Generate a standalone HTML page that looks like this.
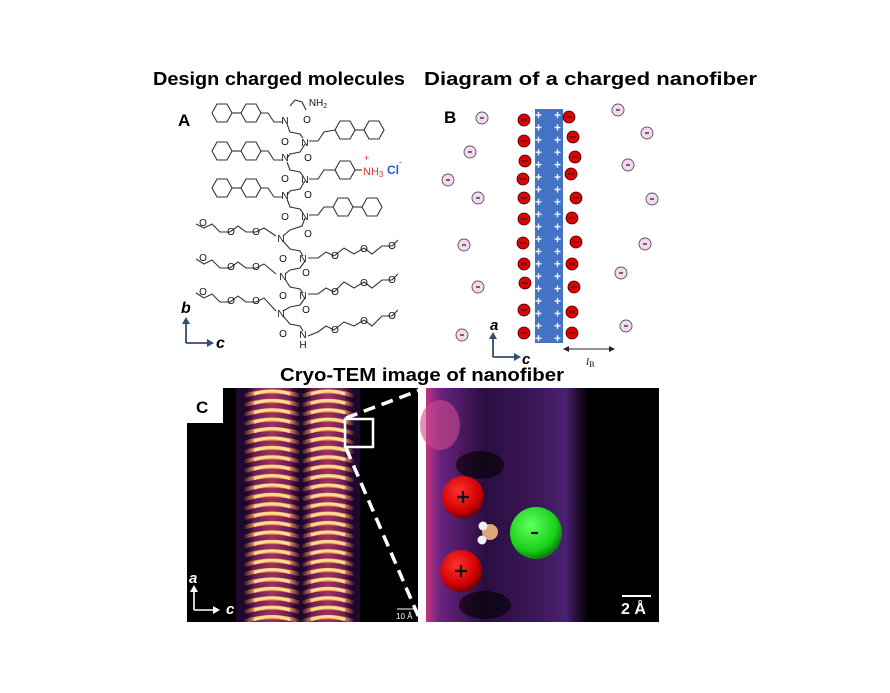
<!DOCTYPE html>
<html><head><meta charset="utf-8"><style>
html,body{margin:0;padding:0;background:#fff;}
svg{display:block;font-family:"Liberation Sans",sans-serif;}
</style></head><body>
<svg width="890" height="693" viewBox="0 0 890 693" xmlns="http://www.w3.org/2000/svg">
<defs>
<pattern id="plus" x="535" y="109" width="28" height="12.4" patternUnits="userSpaceOnUse">
<path d="M0.5 6h6M3.5 3v6M19.5 6h6M22.5 3v6" stroke="#fff" stroke-width="1.3"/>
</pattern>
<linearGradient id="stripe" x1="0" x2="1" y1="0" y2="0">
<stop offset="0" stop-color="#1a0628"/><stop offset="0.2" stop-color="#6a1e5a"/><stop offset="0.5" stop-color="#a0305a"/><stop offset="0.8" stop-color="#6a1e5a"/><stop offset="1" stop-color="#1a0628"/>
</linearGradient>
<pattern id="chev1" x="244" y="388" width="56" height="9.4" patternUnits="userSpaceOnUse">
<path d="M0 8 Q28 -1 56 8" stroke="#f0845a" stroke-width="4.2" fill="none"/>
<path d="M10 6 Q28 0 46 6" stroke="#ffe090" stroke-width="3" fill="none"/>
</pattern>
<pattern id="chev2" x="302" y="388" width="52" height="9.4" patternUnits="userSpaceOnUse">
<path d="M0 8 Q26 -1 52 8" stroke="#f0845a" stroke-width="4.2" fill="none"/>
<path d="M9 6 Q26 0 43 6" stroke="#ffe090" stroke-width="3" fill="none"/>
</pattern>
<linearGradient id="fade" x1="0" x2="1" y1="0" y2="0">
<stop offset="0" stop-color="#1a0628" stop-opacity="0.9"/><stop offset="0.18" stop-color="#1a0628" stop-opacity="0"/><stop offset="0.82" stop-color="#1a0628" stop-opacity="0"/><stop offset="1" stop-color="#1a0628" stop-opacity="0.9"/>
</linearGradient>
<linearGradient id="rbg" x1="0" x2="1" y1="0" y2="0">
<stop offset="0" stop-color="#c0357f"/><stop offset="0.06" stop-color="#6a2480"/><stop offset="0.25" stop-color="#2a0e40"/><stop offset="0.45" stop-color="#3a1656"/><stop offset="0.6" stop-color="#4a2070"/><stop offset="0.66" stop-color="#1a0a25"/><stop offset="0.7" stop-color="#000"/><stop offset="1" stop-color="#000"/>
</linearGradient>
<radialGradient id="red" cx="0.4" cy="0.35" r="0.7"><stop offset="0" stop-color="#ff3030"/><stop offset="0.7" stop-color="#d00000"/><stop offset="1" stop-color="#600000"/></radialGradient>
<radialGradient id="grn" cx="0.4" cy="0.35" r="0.7"><stop offset="0" stop-color="#60ff60"/><stop offset="0.7" stop-color="#18d018"/><stop offset="1" stop-color="#0a6a0a"/></radialGradient>
</defs>

<text x="153" y="85" font-size="18" font-weight="bold" textLength="252" lengthAdjust="spacingAndGlyphs">Design charged molecules</text>
<text x="424" y="85" font-size="18" font-weight="bold" textLength="333" lengthAdjust="spacingAndGlyphs">Diagram of a charged nanofiber</text>
<text x="280" y="381" font-size="18" font-weight="bold" textLength="284" lengthAdjust="spacingAndGlyphs">Cryo-TEM image of nanofiber</text>

<text x="178" y="126" font-size="17" font-weight="bold">A</text>
<g stroke="#333" stroke-width="1.1" fill="none">
<polygon points="212,113 217,104 227,104 232,113 227,122 217,122"/>
<polygon points="241,113 246,104 256,104 261,113 256,122 246,122"/>
<line x1="232" y1="113" x2="241" y2="113"/><polyline points="261,113 268,113 274,122 282,122"/>
<polygon points="212,151 217,142 227,142 232,151 227,160 217,160"/>
<polygon points="241,151 246,142 256,142 261,151 256,160 246,160"/>
<line x1="232" y1="151" x2="241" y2="151"/><polyline points="261,151 268,151 274,160 282,160"/>
<polygon points="212,188 217,179 227,179 232,188 227,197 217,197"/>
<polygon points="241,188 246,179 256,179 261,188 256,197 246,197"/>
<line x1="232" y1="188" x2="241" y2="188"/><polyline points="261,188 268,188 274,197 282,197"/>
<polygon points="335,130 340,121 350,121 355,130 350,139 340,139"/>
<polygon points="364,130 369,121 379,121 384,130 379,139 369,139"/>
<line x1="355" y1="130" x2="364" y2="130"/><polyline points="309,141 318,141 324,132 335,130"/>
<polygon points="335,170 340,161 350,161 355,170 350,179 340,179"/>
<line x1="355" y1="170" x2="362" y2="170"/><polyline points="309,179 318,179 324,170 335,170"/>
<polygon points="333,207 338,198 348,198 353,207 348,216 338,216"/>
<polygon points="362,207 367,198 377,198 382,207 377,216 367,216"/>
<line x1="353" y1="207" x2="362" y2="207"/><polyline points="309,215 318,215 324,207 333,207"/>
<polyline points="287,124 290,132 300,134 303,138"/>
<polyline points="290,106 295,100 302,102 306,110"/>
<polyline points="305,144 300,152 290,154 287,158"/>
<polyline points="287,162 290,170 300,172 303,176"/>
<polyline points="305,181 300,189 290,191 287,195"/>
<polyline points="287,199 290,207 300,209 303,213"/>
<polyline points="305,218 302,226 290,230 283,236"/>
<polyline points="283,241 290,249 300,251 303,256"/>
<polyline points="305,261 300,268 290,270 285,274"/>
<polyline points="285,279 290,287 300,289 303,293"/>
<polyline points="305,298 300,305 290,307 283,311"/>
<polyline points="283,316 290,324 300,326 303,331"/>
<polyline points="196,224 204,228 212,224 220,232 230,232 238,226 246,232 256,232 264,228 276,236"/>
<polyline points="196,259 204,264 212,260 220,268 230,268 238,262 246,268 256,268 264,264 276,274"/>
<polyline points="196,293 204,298 212,294 220,302 230,302 238,296 246,302 256,302 264,298 276,311"/>
<polyline points="308,258 318,258 326,252 334,256 344,248 354,254 364,248 372,254 382,246 392,246 398,240"/>
<polyline points="308,294 318,294 326,288 334,292 344,282 354,288 364,282 372,288 382,280 392,280 398,274"/>
<polyline points="308,336 318,332 326,326 334,330 344,322 354,326 364,320 372,326 382,316 392,316 398,310"/>
</g>
<g font-size="10" fill="#111" text-anchor="middle">
<text x="318" y="106">NH<tspan font-size="7" dy="2">2</tspan></text>
<text x="307" y="123">O</text>
<text x="285" y="124">N</text><text x="285" y="145">O</text>
<text x="305" y="146">N</text><text x="308" y="161">O</text>
<text x="285" y="161">N</text><text x="285" y="182">O</text>
<text x="305" y="183">N</text><text x="308" y="198">O</text>
<text x="285" y="199">N</text><text x="285" y="220">O</text>
<text x="305" y="220">N</text><text x="308" y="237">O</text>
<text x="281" y="242">N</text><text x="283" y="262">O</text>
<text x="303" y="262">N</text><text x="306" y="276">O</text>
<text x="283" y="280">N</text><text x="283" y="299">O</text>
<text x="303" y="299">N</text><text x="306" y="313">O</text>
<text x="281" y="317">N</text><text x="283" y="337">O</text>
<text x="303" y="338">N</text><text x="303" y="348">H</text>
<text x="203" y="226">O</text><text x="231" y="235">O</text><text x="256" y="235">O</text>
<text x="203" y="261">O</text><text x="231" y="270">O</text><text x="256" y="270">O</text>
<text x="203" y="295">O</text><text x="231" y="304">O</text><text x="256" y="304">O</text>
<text x="335" y="259">O</text><text x="364" y="252">O</text><text x="392" y="249">O</text>
<text x="335" y="295">O</text><text x="364" y="286">O</text><text x="392" y="283">O</text>
<text x="335" y="333">O</text><text x="364" y="324">O</text><text x="392" y="319">O</text>
</g>
<text x="363" y="175" font-size="11" fill="#e83030">NH<tspan font-size="8" dy="2">3</tspan></text>
<text x="364" y="161" font-size="9" fill="#e83030">+</text>
<text x="387" y="174" font-size="12" fill="#2a5ad0" font-weight="bold">Cl</text>
<text x="399" y="165" font-size="9" fill="#2a5ad0">-</text>
<text x="181" y="313" font-size="16" font-weight="bold" font-style="italic">b</text>
<path d="M186 343V322M186 343h22" stroke="#2e4f70" stroke-width="1.8" fill="none"/>
<path d="M182 324l4-7 4 7zM207 339l7 4-7 4z" fill="#2e4f70"/>
<text x="216" y="348" font-size="16" font-weight="bold" font-style="italic">c</text>

<text x="444" y="123" font-size="17" font-weight="bold">B</text>
<rect x="535" y="109" width="28" height="234" fill="#4472c4"/>
<rect x="535" y="109" width="28" height="234" fill="url(#plus)"/>
<g fill="#e00000" stroke="#300" stroke-width="0.8">
<circle cx="524" cy="120" r="6"/><circle cx="524" cy="141" r="6"/><circle cx="525" cy="161" r="6"/><circle cx="523" cy="179" r="6"/><circle cx="524" cy="198" r="6"/><circle cx="524" cy="219" r="6"/><circle cx="523" cy="243" r="6"/><circle cx="524" cy="264" r="6"/><circle cx="525" cy="283" r="6"/><circle cx="524" cy="310" r="6"/><circle cx="524" cy="333" r="6"/>
<circle cx="569" cy="117" r="6"/><circle cx="573" cy="137" r="6"/><circle cx="575" cy="157" r="6"/><circle cx="571" cy="174" r="6"/><circle cx="576" cy="198" r="6"/><circle cx="572" cy="218" r="6"/><circle cx="576" cy="242" r="6"/><circle cx="572" cy="264" r="6"/><circle cx="574" cy="287" r="6"/><circle cx="572" cy="312" r="6"/><circle cx="572" cy="333" r="6"/>
</g>
<g fill="#f6d8f0" stroke="#555" stroke-width="0.9">
<circle cx="482" cy="118" r="6"/><circle cx="470" cy="152" r="6"/><circle cx="448" cy="180" r="6"/><circle cx="478" cy="198" r="6"/><circle cx="464" cy="245" r="6"/><circle cx="478" cy="287" r="6"/><circle cx="462" cy="335" r="6"/>
<circle cx="618" cy="110" r="6"/><circle cx="647" cy="133" r="6"/><circle cx="628" cy="165" r="6"/><circle cx="652" cy="199" r="6"/><circle cx="645" cy="244" r="6"/><circle cx="621" cy="273" r="6"/><circle cx="626" cy="326" r="6"/>
</g>
<g stroke="#222" stroke-width="1.3">
<path d="M521 120h6M521 141h6M522 161h6M520 179h6M521 198h6M521 219h6M520 243h6M521 264h6M522 283h6M521 310h6M521 333h6"/>
<path d="M566 117h6M570 137h6M572 157h6M568 174h6M573 198h6M569 218h6M573 242h6M569 264h6M571 287h6M569 312h6M569 333h6"/>
<path d="M480 118h4M468 152h4M446 180h4M476 198h4M462 245h4M476 287h4M460 335h4M616 110h4M645 133h4M626 165h4M650 199h4M643 244h4M619 273h4M624 326h4"/>
</g>
<text x="490" y="330" font-size="15" font-weight="bold" font-style="italic">a</text>
<path d="M493 357V337M493 357h22" stroke="#2e4f70" stroke-width="1.8" fill="none"/>
<path d="M489 339l4-7 4 7zM514 353l7 4-7 4z" fill="#2e4f70"/>
<text x="522" y="364" font-size="15" font-weight="bold" font-style="italic">c</text>
<path d="M566 349h46" stroke="#222" stroke-width="1"/>
<path d="M563 349l6-3v6zM615 349l-6-3v6z" fill="#222"/>
<text x="586" y="365" font-size="11" font-style="italic" font-family="Liberation Serif">l<tspan font-size="8" dy="2" font-style="normal">B</tspan></text>

<rect x="187" y="388" width="231" height="234" fill="#000"/>
<rect x="236" y="388" width="124" height="234" fill="#1e0830"/>
<rect x="244" y="388" width="56" height="234" fill="url(#stripe)"/>
<rect x="302" y="388" width="52" height="234" fill="url(#stripe)"/>
<rect x="244" y="388" width="56" height="234" fill="url(#chev1)"/>
<rect x="302" y="388" width="52" height="234" fill="url(#chev2)"/>
<rect x="244" y="388" width="56" height="234" fill="url(#fade)"/>
<rect x="302" y="388" width="52" height="234" fill="url(#fade)"/>
<rect x="187" y="388" width="36" height="35" fill="#fff"/>
<text x="196" y="413" font-size="17" font-weight="bold">C</text>
<rect x="345" y="419" width="28" height="28" fill="none" stroke="#fff" stroke-width="2.5"/>
<path d="M346 418L420 390M346 448L420 620" stroke="#fff" stroke-width="3.5" stroke-dasharray="12,7"/>
<text x="189" y="583" font-size="15" font-weight="bold" font-style="italic" fill="#fff">a</text>
<path d="M194 610V590M194 610h20" stroke="#fff" stroke-width="1.6" fill="none"/>
<path d="M190 592l4-7 4 7zM213 606l7 4-7 4z" fill="#fff"/>
<text x="226" y="614" font-size="15" font-weight="bold" font-style="italic" fill="#fff">c</text>
<path d="M397 609h20" stroke="#fff" stroke-width="1"/>
<text x="396" y="619" font-size="8" fill="#fff">10 Å</text>

<rect x="426" y="388" width="233" height="234" fill="url(#rbg)"/>
<ellipse cx="440" cy="425" rx="20" ry="25" fill="#d04a90" opacity="0.6"/>
<ellipse cx="480" cy="465" rx="24" ry="14" fill="#000" opacity="0.6"/>
<ellipse cx="485" cy="605" rx="26" ry="14" fill="#000" opacity="0.6"/>
<circle cx="463" cy="497" r="21" fill="url(#red)"/>
<circle cx="461" cy="571" r="21" fill="url(#red)"/>
<circle cx="536" cy="533" r="26" fill="url(#grn)"/>
<circle cx="490" cy="532" r="8" fill="#d8a878"/>
<circle cx="483" cy="526" r="4.5" fill="#f0f0f0"/>
<circle cx="482" cy="540" r="4.5" fill="#f0f0f0"/>
<path d="M457 497h12M463 491v12M455 571h12M461 565v12M531 533h7" stroke="#111" stroke-width="2.2"/>
<path d="M622 596h29" stroke="#fff" stroke-width="2"/>
<text x="621" y="614" font-size="16" font-weight="bold" fill="#fff">2 Å</text>
</svg>
</body></html>
